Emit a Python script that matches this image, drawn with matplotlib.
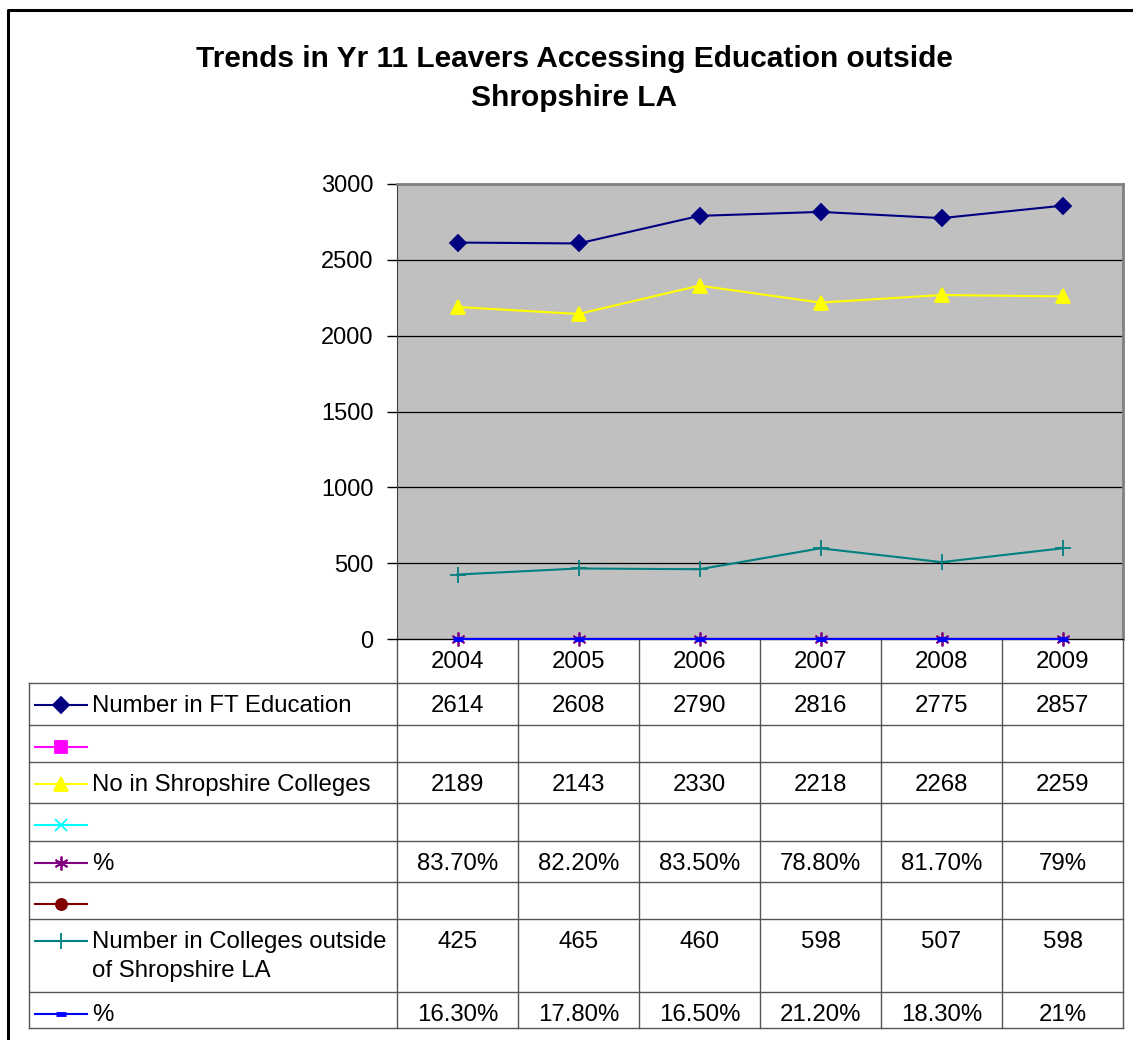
import matplotlib.pyplot as plt
from matplotlib.lines import Line2D

plt.rcParams['font.family'] = ['Liberation Sans', 'DejaVu Sans']

years = ['2004', '2005', '2006', '2007', '2008', '2009']
ft_education = [2614, 2608, 2790, 2816, 2775, 2857]
shropshire_colleges = [2189, 2143, 2330, 2218, 2268, 2259]
pct_shropshire = [0.837, 0.822, 0.835, 0.788, 0.817, 0.79]
pct_shropshire_lbl = ['83.70%', '82.20%', '83.50%', '78.80%', '81.70%', '79%']
outside_colleges = [425, 465, 460, 598, 507, 598]
pct_outside = [0.163, 0.178, 0.165, 0.212, 0.183, 0.21]
pct_outside_lbl = ['16.30%', '17.80%', '16.50%', '21.20%', '18.30%', '21%']

W, H = 1133, 1040
fig = plt.figure(figsize=(W / 100, H / 100), dpi=100)

# background layer in pixel coords: frame + data table
bg = fig.add_axes([0, 0, 1, 1])
bg.set_xlim(0, W)
bg.set_ylim(H, 0)
bg.axis('off')
bg.plot([8, 8, W], [H, 10, 10], color='black', lw=2.2)

ax = fig.add_axes([397 / W, 1 - 639 / H, 726 / W, 455 / H])
ax.set_facecolor('#C0C0C0')
x = list(range(len(years)))

series = [
    (ft_education, '#000080', 'D', 8, 'Number in FT Education'),
    ([], '#FF00FF', 's', 8, ''),
    (shropshire_colleges, '#FFFF00', '^', 10, 'No in Shropshire Colleges'),
    ([], '#00FFFF', 'x', 8, ''),
    (pct_shropshire, '#800080', (6, 2, 0), 10, '%'),
    ([], '#800000', 'o', 8, ''),
    (outside_colleges, '#008080', '+', 12, 'Number in Colleges outside\nof Shropshire LA'),
    (pct_outside, '#0000FF', '_', 7, '%'),
]

for vals, col, mk, ms, lab in series:
    if vals:
        ax.plot(x, vals, color=col, marker=mk, markersize=ms, lw=1.5,
                markeredgewidth=1.3 if mk != '_' else 3.5,
                clip_on=False, zorder=3)

ax.set_xlim(-0.5, len(years) - 0.5)
ax.set_ylim(0, 3000)
ax.set_yticks(range(0, 3001, 500))
ax.yaxis.grid(True, color='black', lw=0.9)
ax.set_axisbelow(True)
ax.set_xticks([])
ax.tick_params(axis='y', direction='out', length=7, width=1, labelsize=17, pad=10)
for s in ['top', 'right']:
    ax.spines[s].set_color('#808080')
    ax.spines[s].set_linewidth(2)
ax.spines['left'].set_color('#404040')
ax.spines['bottom'].set_color('black')

# data table
gc = '#555555'
col_edges = [397 + i * 121 for i in range(len(years) + 1)]
col_edges[-1] = 1123
row_edges = [683, 725, 762, 803, 841, 882, 919, 992, 1028]
bg.plot([col_edges[0], col_edges[-1]], [639, 639], color=gc, lw=1)
for xe in col_edges:
    bg.plot([xe, xe], [639, row_edges[-1]], color=gc, lw=1)
for ye in row_edges:
    bg.plot([29, col_edges[-1]], [ye, ye], color=gc, lw=1)
bg.plot([29, 29], [row_edges[0], row_edges[-1]], color=gc, lw=1)

fs = 17.3
for i, yr in enumerate(years):
    bg.text((col_edges[i] + col_edges[i + 1]) / 2, 662, yr, ha='center', va='center', fontsize=fs)

cell_text = [
    [str(v) for v in ft_education],
    [''] * 6,
    [str(v) for v in shropshire_colleges],
    [''] * 6,
    pct_shropshire_lbl,
    [''] * 6,
    [str(v) for v in outside_colleges],
    pct_outside_lbl,
]

for r, (vals, col, mk, ms, lab) in enumerate(series):
    yc = row_edges[r] + 22
    bg.add_line(Line2D([35, 87], [yc, yc], color=col, lw=1.5))
    bg.plot([61], [yc], marker=mk, color=col, markersize=ms,
            markeredgewidth=1.3 if mk != '_' else 3.5)
    for k, ln in enumerate(lab.split('\n')):
        if ln:
            bg.text(92, yc + 1 + k * 29, ln, ha='left', va='center', fontsize=fs)
    for i, t in enumerate(cell_text[r]):
        bg.text((col_edges[i] + col_edges[i + 1]) / 2, yc + 1, t, ha='center', va='center', fontsize=fs)

fig.text(574 / W, 1 - 59 / H, 'Trends in Yr 11 Leavers Accessing Education outside',
         ha='center', va='center', fontsize=21.5, fontweight='bold')
fig.text(574 / W, 1 - 98 / H, 'Shropshire LA',
         ha='center', va='center', fontsize=21.5, fontweight='bold')

fig.savefig('out.png', dpi=100)
